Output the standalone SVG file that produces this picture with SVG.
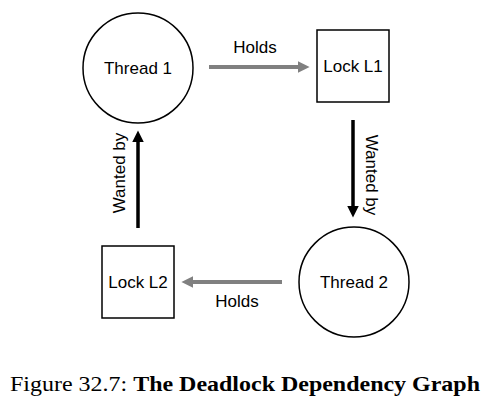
<svg xmlns="http://www.w3.org/2000/svg" width="501" height="400" viewBox="0 0 501 400">
<style>
.node{fill:#fff;stroke:#000;stroke-width:1.5}
.lbl{font-family:"Liberation Sans",Arial,sans-serif;font-size:17px;fill:#000;text-anchor:middle}
.gray{stroke:#808080;stroke-width:4;fill:none}
.blk{stroke:#000;stroke-width:3.5;fill:none}
.cap{font-family:"Liberation Serif","Times New Roman",serif;font-size:21px;fill:#000}
</style>
<defs>
<marker id="ag" viewBox="0 0 10 10" refX="2" refY="5" markerWidth="3" markerHeight="3" orient="auto" markerUnits="strokeWidth">
<path d="M0,0 L10,5 L0,10 Z" fill="#808080"/>
</marker>
<marker id="ab" viewBox="0 0 10 10" refX="2" refY="5" markerWidth="3.4" markerHeight="3.4" orient="auto" markerUnits="strokeWidth">
<path d="M0,0 L10,5 L0,10 Z" fill="#000"/>
</marker>
</defs>
<rect width="501" height="400" fill="#fff"/>
<g id="connectors">
<line class="gray" x1="209" y1="67" x2="300" y2="67" marker-end="url(#ag)"/>
<text class="lbl" x="255" y="53">Holds</text>
<line class="blk" x1="353" y1="120" x2="353" y2="208" marker-end="url(#ab)"/>
<text class="lbl" transform="translate(366,175) rotate(90)" x="0" y="0">Wanted by</text>
<line class="gray" x1="282" y1="282" x2="191" y2="282" marker-end="url(#ag)"/>
<text class="lbl" x="237" y="307">Holds</text>
<line class="blk" x1="138" y1="228" x2="138" y2="140" marker-end="url(#ab)"/>
<text class="lbl" transform="translate(125,173) rotate(-90)" x="0" y="0">Wanted by</text>
</g>
<g id="thread1">
<circle class="node" cx="138" cy="68" r="55"/>
<text class="lbl" x="138" y="74">Thread 1</text>
</g>
<g id="lockL1">
<rect class="node" x="317" y="30" width="72" height="72"/>
<text class="lbl" x="353" y="72">Lock L1</text>
</g>
<g id="thread2">
<circle class="node" cx="354" cy="282" r="55"/>
<text class="lbl" x="354" y="288">Thread 2</text>
</g>
<g id="lockL2">
<rect class="node" x="102" y="246" width="72" height="72"/>
<text class="lbl" x="138" y="288">Lock L2</text>
</g>
<text class="cap" x="10" y="391" textLength="470" lengthAdjust="spacingAndGlyphs">Figure 32.7: <tspan font-weight="bold">The Deadlock Dependency Graph</tspan></text>
</svg>
